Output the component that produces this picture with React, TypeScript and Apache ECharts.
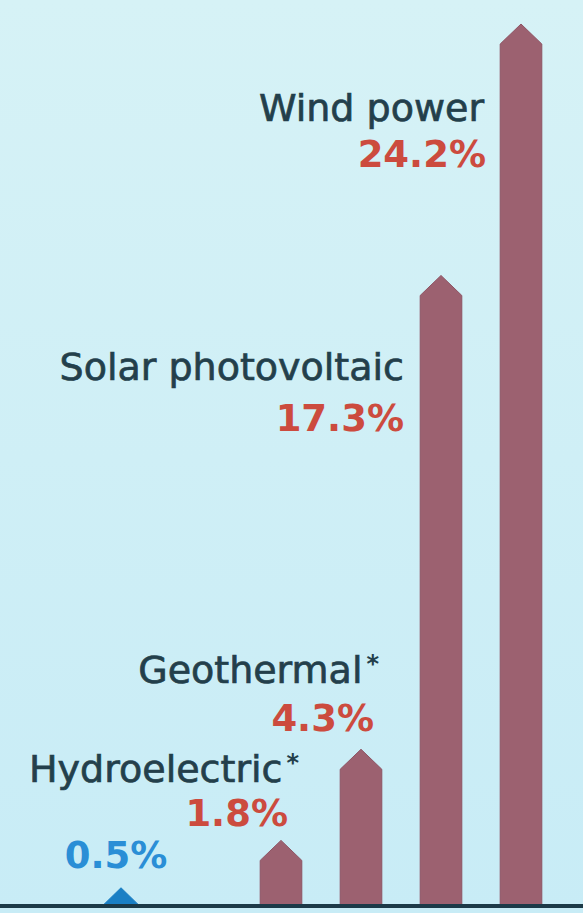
import React, { useEffect, useRef } from "react";
import * as echarts from "echarts";

// Data
const categories = ["Other", "gap", "Hydroelectric", "Geothermal", "Solar photovoltaic", "Wind power"];
const values: (number | null)[] = [0.5, null, 1.8, 4.3, 17.3, 24.2];
const nameLabels = ["", "", "Hydroelectric", "Geothermal", "Solar photovoltaic", "Wind power"];
const asterisk = [false, false, true, true, false, false];

export default function App() {
  const ref = useRef<HTMLDivElement>(null);
  useEffect(() => {
    if (!ref.current) return;
    const chart = echarts.init(ref.current, undefined, { renderer: "svg" });

    const seriesData = values
      .map((v, i) => (v == null ? null : { value: [i, v] }))
      .filter((d) => d != null);

    // label layout (right edge x, middle y) for name and percentage
    const layout: Record<number, { nx?: number; ny?: number; px: number; py: number; align?: string }> = {
      0: { px: 116, py: 855, align: "center" },
      2: { nx: 299, ny: 769, px: 288, py: 813 },
      3: { nx: 379, ny: 670, px: 374, py: 718 },
      4: { nx: 404, ny: 367, px: 404, py: 418 },
      5: { nx: 484, ny: 108, px: 486, py: 154 },
    };

    const texts: any[] = [];
    values.forEach((v, i) => {
      if (v == null) return;
      const l = layout[i];
      if (!l) return;
      if (nameLabels[i] && l.nx != null) {
        texts.push({
          type: "text",
          x: l.nx,
          y: l.ny,
          style: {
            text: asterisk[i] ? `{n|${nameLabels[i]}}{a|*}` : `{n|${nameLabels[i]}}`,
            align: "right",
            verticalAlign: "middle",
            rich: {
              n: {
                fontFamily: "DejaVu Sans",
                fontSize: 38,
                fill: "#233f4b",
                fontWeight: "normal",
                stroke: "#233f4b",
                lineWidth: 0.7,
              },
              a: {
                fontFamily: "DejaVu Sans",
                fontSize: 24,
                fontWeight: "bold",
                fill: "#233f4b",
                padding: [0, 0, 12, 4],
              },
            },
          },
        });
      }
      texts.push({
        type: "text",
        x: l.px,
        y: l.py,
        style: {
          text: `${v}%`,
          align: l.align || "right",
          verticalAlign: "middle",
          fontFamily: "DejaVu Sans",
          fontWeight: "bold",
          fontSize: 37,
          fill: i === 0 ? "#2a8ed6" : "#cc4b3e",
        },
      });
    });

    chart.setOption({
      animation: false,
      backgroundColor: {
        type: "linear",
        x: 0,
        y: 0,
        x2: 0,
        y2: 1,
        colorStops: [
          { offset: 0, color: "#d6f2f6" },
          { offset: 1, color: "#c8ecf6" },
        ],
      },
      grid: { left: 81, right: 22, top: 24, bottom: 7 },
      xAxis: {
        type: "category",
        data: categories,
        boundaryGap: true,
        axisLine: { show: false },
        axisTick: { show: false },
        axisLabel: { show: false },
      },
      yAxis: {
        type: "value",
        min: 0,
        max: Math.max(...(values.filter((v) => v != null) as number[])),
        show: false,
        splitLine: { show: false },
      },
      series: [
        {
          type: "custom",
          data: seriesData,
          renderItem: (params: any, api: any) => {
            const x = api.value(0);
            const v = api.value(1);
            const base = api.coord([x, 0]);
            const top = api.coord([x, v]);
            const w = api.size([1, 0])[0] * 0.52;
            const h = base[1] - top[1];
            const head = Math.min(20, h);
            const cx = base[0];
            const isBlue = x === 0;
            const hw = isBlue ? w * 0.45 : w / 2;
            return {
              type: "polygon",
              shape: {
                points: [
                  [cx - hw, base[1]],
                  [cx - hw, top[1] + head],
                  [cx, top[1]],
                  [cx + hw, top[1] + head],
                  [cx + hw, base[1]],
                ],
              },
              style: { fill: isBlue ? "#1a7fc4" : "#9c6170", stroke: isBlue ? "#1a7fc4" : "#8e5464", lineWidth: 1 },
            };
          },
        },
      ],
      graphic: [
        {
          type: "rect",
          left: 0,
          bottom: 5,
          shape: { width: 583, height: 4 },
          style: { fill: "#1c3a48" },
          z: 10,
        },
        ...texts,
      ],
    });
    return () => chart.dispose();
  }, []);
  return (
    <div
      ref={ref}
      style={{ position: "fixed", left: 0, top: 0, width: 583, height: 913 }}
    />
  );
}
